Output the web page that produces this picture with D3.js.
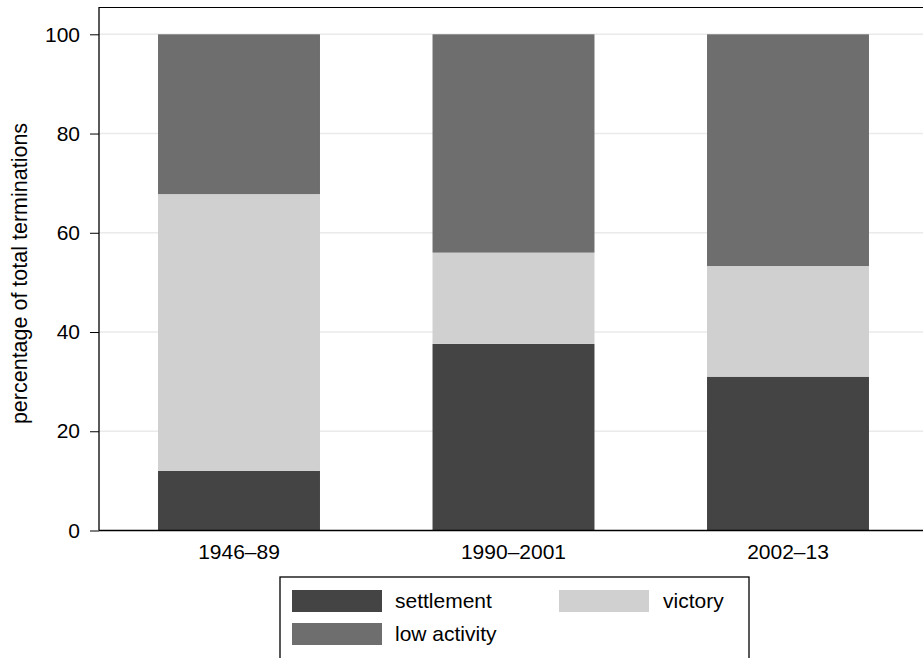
<!DOCTYPE html>
<html>
<head>
<meta charset="utf-8">
<script src="https://cdn.jsdelivr.net/npm/d3@7"></script>
<style>
  html, body { margin: 0; padding: 0; background: #fff; }
  svg { display: block; font-family: "Liberation Sans", Arial, Helvetica, sans-serif; }
</style>
</head>
<body>
<svg id="chart" width="923" height="658"></svg>
<script>
// ---- data ----
const periods = ["1946–89", "1990–2001", "2002–13"];
const settlement = [12.0, 37.6, 31.0];
const victory = [55.8, 18.4, 22.3];
const lowActivity = [32.2, 44.0, 46.7];
const yTicks = [0, 20, 40, 60, 80, 100];
const seriesNames = ["settlement", "victory", "low activity"];
const seriesColors = ["#444444", "#d0d0d0", "#6e6e6e"];

const rows = periods.map((p, i) => ({
  period: p,
  "settlement": settlement[i],
  "victory": victory[i],
  "low activity": lowActivity[i]
}));

const svg = d3.select("#chart");
const W = 923;
const plotLeft = 99, plotTop = 7, plotRight = 930;

const y = d3.scaleLinear().domain([0, 100]).range([530.5, 34.3]);
const x = d3.scaleBand().domain(periods)
  .range([101.75, 925.25]).paddingInner(0.41).paddingOuter(0.205);
const color = d3.scaleOrdinal().domain(seriesNames).range(seriesColors);

// gridlines
svg.append("g").selectAll("line").data(yTicks.filter(d => d > 0)).join("line")
  .attr("x1", plotLeft).attr("x2", plotRight)
  .attr("y1", d => y(d)).attr("y2", d => y(d))
  .attr("stroke", "#eaeaea").attr("stroke-width", 1.5);

// bars
const stacked = d3.stack().keys(seriesNames)(rows);
svg.append("g").selectAll("g").data(stacked).join("g")
  .attr("fill", d => color(d.key))
  .selectAll("rect").data(d => d).join("rect")
  .attr("x", d => x(d.data.period))
  .attr("width", x.bandwidth())
  .attr("y", d => y(d[1]))
  .attr("height", d => y(d[0]) - y(d[1]));

// frame: top border
svg.append("line").attr("x1", plotLeft).attr("x2", plotRight)
  .attr("y1", plotTop + 0.5).attr("y2", plotTop + 0.5)
  .attr("stroke", "#000").attr("stroke-width", 1);

// y axis
const yAxis = svg.append("g").attr("transform", `translate(${plotLeft},0)`)
  .call(d3.axisLeft(y).tickValues(yTicks).tickSize(9).tickPadding(10));
yAxis.select(".domain").remove();
yAxis.selectAll(".tick line").attr("stroke", "#000");
yAxis.selectAll(".tick text").attr("font-size", 21).attr("fill", "#000")
  .attr("font-family", "Liberation Sans, Arial, sans-serif");
svg.append("line").attr("x1", plotLeft).attr("x2", plotLeft)
  .attr("y1", plotTop).attr("y2", y(0)).attr("stroke", "#000").attr("stroke-width", 1.3);

// x axis
const xAxis = svg.append("g").attr("transform", `translate(0,${y(0)})`)
  .call(d3.axisBottom(x).tickSize(0).tickPadding(14));
xAxis.select(".domain").remove();
xAxis.selectAll(".tick text").attr("font-size", 21).attr("fill", "#000")
  .attr("font-family", "Liberation Sans, Arial, sans-serif");
svg.append("line").attr("x1", plotLeft).attr("x2", plotRight)
  .attr("y1", y(0)).attr("y2", y(0)).attr("stroke", "#000").attr("stroke-width", 1.3);

// y title
svg.append("text")
  .attr("transform", `translate(27,${(120 + 427) / 2}) rotate(-90)`)
  .attr("text-anchor", "middle")
  .attr("font-size", 21.5).attr("fill", "#000")
  .text("percentage of total terminations");

// legend
const lg = svg.append("g");
lg.append("rect").attr("x", 280).attr("y", 577).attr("width", 469).attr("height", 100)
  .attr("fill", "#fff").attr("stroke", "#000").attr("stroke-width", 1.3);
const legendPos = [
  { sx: 292, sy: 590, tx: 395 },
  { sx: 559, sy: 590, tx: 663 },
  { sx: 292, sy: 623, tx: 395 }
];
seriesNames.forEach((name, i) => {
  const p = legendPos[i];
  lg.append("rect").attr("x", p.sx).attr("y", p.sy).attr("width", 90).attr("height", 22)
    .attr("fill", color(name));
  lg.append("text").attr("x", p.tx).attr("y", p.sy + 11).attr("dy", "0.35em")
    .attr("font-size", 21).attr("fill", "#000").text(name);
});
</script>
</body>
</html>
